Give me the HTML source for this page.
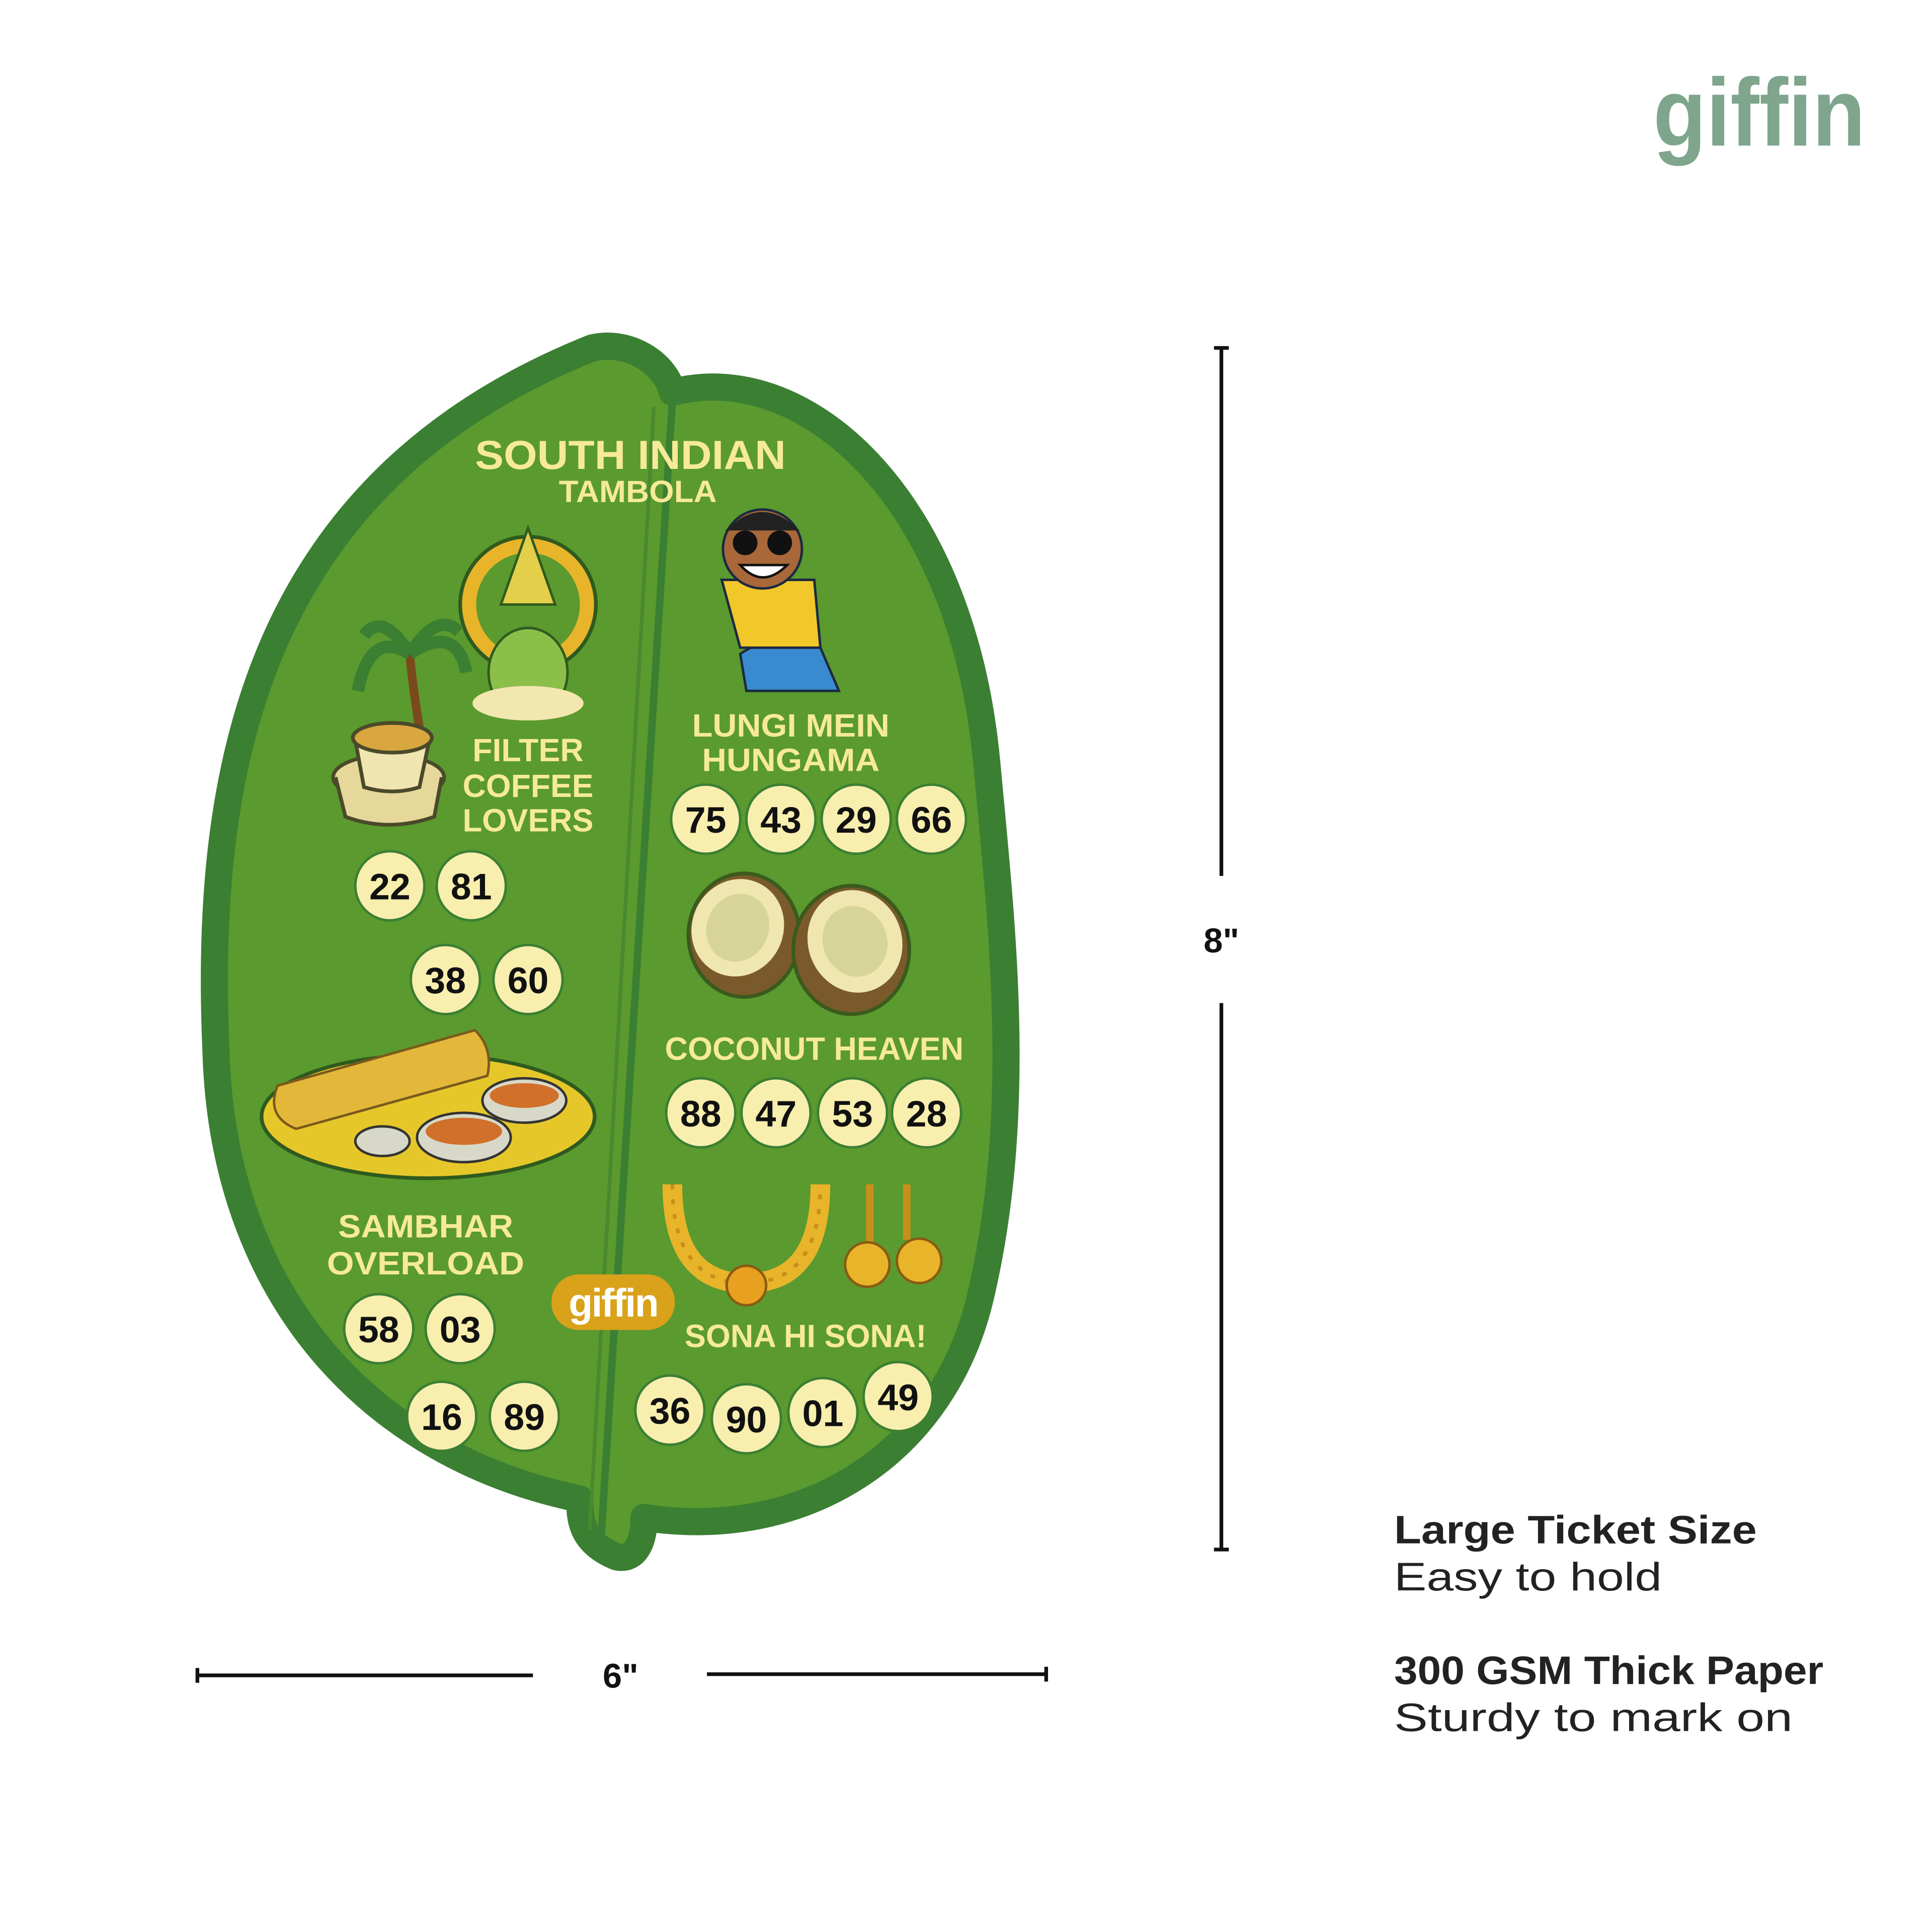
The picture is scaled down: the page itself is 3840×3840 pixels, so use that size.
<!DOCTYPE html>
<html><head><meta charset="utf-8"><style>
html,body{margin:0;padding:0;background:#fff;}
svg{display:block;}
</style></head><body>
<svg width="3840" height="3840" viewBox="0 0 1566 1566" xmlns="http://www.w3.org/2000/svg" font-family="Liberation Sans, sans-serif">
<rect width="1566" height="1566" fill="#fff"/>
<text x="1340" y="118" font-size="78" fill="#7fa58c" font-weight="bold" textLength="172" lengthAdjust="spacingAndGlyphs">giffin</text>

<path transform="translate(8,8)" d="M500 1262 C470 1250 470 1230 470 1215 C300 1180 180 1050 175 850 C165 620 210 390 480 282 C510 275 540 295 545 318 C650 290 780 400 800 620 C812 750 830 900 795 1050 C765 1180 650 1250 522 1230 C522 1250 515 1265 500 1262 Z" fill="#d8d8d8" opacity="0.6"/>
<path d="M500 1262 C470 1250 470 1230 470 1215 C300 1180 180 1050 175 850 C165 620 210 390 480 282 C510 275 540 295 545 318 C650 290 780 400 800 620 C812 750 830 900 795 1050 C765 1180 650 1250 522 1230 C522 1250 515 1265 500 1262 Z" fill="#5a9a2e" stroke="#3b7f33" stroke-width="22" stroke-linejoin="round"/>
<path d="M545 325 L487 1250" stroke="#3b7f33" stroke-width="6" fill="none"/>
<path d="M530 330 L478 1240" stroke="#4a8a2e" stroke-width="3" fill="none"/>

<g fill="#f6ea98" font-weight="bold" text-anchor="middle">
<text x="511" y="380" font-size="33" textLength="252" lengthAdjust="spacingAndGlyphs">SOUTH INDIAN</text>
<text x="517" y="407" font-size="25" textLength="128" lengthAdjust="spacingAndGlyphs">TAMBOLA</text>
<text x="428" y="617" font-size="26" textLength="90" lengthAdjust="spacingAndGlyphs">FILTER</text>
<text x="428" y="646" font-size="26" textLength="106" lengthAdjust="spacingAndGlyphs">COFFEE</text>
<text x="428" y="674" font-size="26" textLength="106" lengthAdjust="spacingAndGlyphs">LOVERS</text>
<text x="641" y="597" font-size="26" textLength="160" lengthAdjust="spacingAndGlyphs">LUNGI MEIN</text>
<text x="641" y="625" font-size="26" textLength="144" lengthAdjust="spacingAndGlyphs">HUNGAMA</text>
<text x="660" y="859" font-size="26" textLength="242" lengthAdjust="spacingAndGlyphs">COCONUT HEAVEN</text>
<text x="345" y="1003" font-size="26" textLength="142" lengthAdjust="spacingAndGlyphs">SAMBHAR</text>
<text x="345" y="1033" font-size="26" textLength="160" lengthAdjust="spacingAndGlyphs">OVERLOAD</text>
<text x="653" y="1092" font-size="26" textLength="196" lengthAdjust="spacingAndGlyphs">SONA HI SONA!</text>
</g>

<circle cx="428" cy="490" r="55" fill="#e8b42a" stroke="#2f5a1e" stroke-width="3"/>
<circle cx="428" cy="490" r="42" fill="#5a9a2e"/>
<path d="M428 428 L450 490 L406 490 Z" fill="#e3cf4a" stroke="#2f5a1e" stroke-width="2"/>
<ellipse cx="428" cy="545" rx="32" ry="36" fill="#8bbf4a" stroke="#2f5a1e" stroke-width="2"/>
<ellipse cx="428" cy="570" rx="45" ry="14" fill="#f3e7b0"/>
<path d="M340 590 Q335 560 332 530" stroke="#7a4a1c" stroke-width="7" fill="none"/>
<path d="M332 530 Q300 510 290 560 M332 530 Q370 505 378 545 M332 530 Q310 495 295 515 M332 530 Q355 495 372 512" stroke="#3b7f33" stroke-width="10" fill="none"/>
<ellipse cx="315" cy="630" rx="45" ry="18" fill="#e6d79a" stroke="#4a4a2a" stroke-width="3"/>
<path d="M272 630 L280 662 Q315 675 352 662 L358 630" fill="#e6d79a" stroke="#4a4a2a" stroke-width="3"/>
<path d="M288 600 L295 638 Q318 645 340 638 L348 600 Z" fill="#f0e4b0" stroke="#4a4a2a" stroke-width="3"/>
<ellipse cx="318" cy="598" rx="32" ry="12" fill="#d8a740" stroke="#4a4a2a" stroke-width="3"/>
<path d="M600 530 Q630 510 665 525 L680 560 L605 560 Z" fill="#3a8ad0" stroke="#1c2a40" stroke-width="2"/>
<path d="M585 470 L660 470 L665 525 L600 525 Z" fill="#f2c72a" stroke="#1c2a40" stroke-width="2"/>
<circle cx="618" cy="445" r="32" fill="#a8683a" stroke="#1c2a40" stroke-width="2"/>
<path d="M588 430 Q618 400 648 430" fill="#222"/>
<circle cx="604" cy="440" r="10" fill="#111"/><circle cx="632" cy="440" r="10" fill="#111"/>
<path d="M600 458 Q618 478 638 458 Z" fill="#fff" stroke="#111" stroke-width="2"/>
<ellipse cx="603" cy="758" rx="45" ry="50" fill="#7a5a2a" stroke="#3b5a1e" stroke-width="3"/>
<ellipse cx="598" cy="752" rx="37" ry="40" fill="#efe6b0" transform="rotate(25 598 752)"/>
<ellipse cx="598" cy="752" rx="25" ry="28" fill="#d7d49a" transform="rotate(25 598 752)"/>
<ellipse cx="690" cy="770" rx="47" ry="52" fill="#7a5a2a" stroke="#3b5a1e" stroke-width="3"/>
<ellipse cx="693" cy="763" rx="38" ry="42" fill="#efe6b0" transform="rotate(-20 693 763)"/>
<ellipse cx="693" cy="763" rx="26" ry="29" fill="#d7d49a" transform="rotate(-20 693 763)"/>
<ellipse cx="347" cy="905" rx="135" ry="50" fill="#e6c72a" stroke="#2f5a1e" stroke-width="3"/>
<path d="M225 880 L385 835 Q400 850 395 872 L240 915 Q215 905 225 880 Z" fill="#e3b83a" stroke="#7a5a1c" stroke-width="2"/>
<ellipse cx="425" cy="892" rx="34" ry="18" fill="#d8d8c8" stroke="#333" stroke-width="2"/>
<ellipse cx="425" cy="888" rx="28" ry="10" fill="#d0702a"/>
<ellipse cx="376" cy="922" rx="38" ry="20" fill="#d8d8c8" stroke="#333" stroke-width="2"/>
<ellipse cx="376" cy="917" rx="31" ry="11" fill="#d0702a"/>
<ellipse cx="310" cy="925" rx="22" ry="12" fill="#d8d8c8" stroke="#333" stroke-width="2"/>
<path d="M545 960 Q545 1040 605 1040 Q665 1040 665 960" fill="none" stroke="#e8b42a" stroke-width="16"/>
<path d="M545 960 Q545 1040 605 1040 Q665 1040 665 960" fill="none" stroke="#c8901a" stroke-width="3" stroke-dasharray="4 8"/>
<circle cx="605" cy="1042" r="16" fill="#e8a020" stroke="#8a5a10" stroke-width="2"/>
<path d="M705 960 L705 1010" stroke="#c8901a" stroke-width="6"/><ellipse cx="703" cy="1025" rx="18" ry="18" fill="#e8b42a" stroke="#8a5a10" stroke-width="2"/>
<path d="M735 960 L735 1005" stroke="#c8901a" stroke-width="6"/><ellipse cx="745" cy="1022" rx="18" ry="18" fill="#e8b42a" stroke="#8a5a10" stroke-width="2"/>

<rect x="447" y="1033" width="100" height="45" rx="22" fill="#d9a21a"/>
<text x="497" y="1067" text-anchor="middle" font-size="32" fill="#fff" font-weight="bold" letter-spacing="-1">giffin</text>

<g font-weight="bold" font-size="30" text-anchor="middle" fill="#111">
<g fill="#f8eeae" stroke="#3b7f33" stroke-width="2">
<circle cx="572" cy="664" r="28"/><circle cx="633" cy="664" r="28"/><circle cx="694" cy="664" r="28"/><circle cx="755" cy="664" r="28"/>
<circle cx="316" cy="718" r="28"/><circle cx="382" cy="718" r="28"/>
<circle cx="361" cy="794" r="28"/><circle cx="428" cy="794" r="28"/>
<circle cx="568" cy="902" r="28"/><circle cx="629" cy="902" r="28"/><circle cx="691" cy="902" r="28"/><circle cx="751" cy="902" r="28"/>
<circle cx="307" cy="1077" r="28"/><circle cx="373" cy="1077" r="28"/>
<circle cx="358" cy="1148" r="28"/><circle cx="425" cy="1148" r="28"/>
<circle cx="543" cy="1143" r="28"/><circle cx="605" cy="1150" r="28"/><circle cx="667" cy="1145" r="28"/><circle cx="728" cy="1132" r="28"/>
</g>
<text x="572" y="675">75</text><text x="633" y="675">43</text><text x="694" y="675">29</text><text x="755" y="675">66</text>
<text x="316" y="729">22</text><text x="382" y="729">81</text>
<text x="361" y="805">38</text><text x="428" y="805">60</text>
<text x="568" y="913">88</text><text x="629" y="913">47</text><text x="691" y="913">53</text><text x="751" y="913">28</text>
<text x="307" y="1088">58</text><text x="373" y="1088">03</text>
<text x="358" y="1159">16</text><text x="425" y="1159">89</text>
<text x="543" y="1154">36</text><text x="605" y="1161">90</text><text x="667" y="1156">01</text><text x="728" y="1143">49</text>
</g>

<g stroke="#111" stroke-width="3">
<line x1="990" y1="282" x2="990" y2="710"/><line x1="984" y1="282" x2="996" y2="282"/>
<line x1="990" y1="813" x2="990" y2="1256"/><line x1="984" y1="1256" x2="996" y2="1256"/>
<line x1="160" y1="1358" x2="432" y2="1358"/><line x1="160" y1="1352" x2="160" y2="1364"/>
<line x1="573" y1="1357" x2="848" y2="1357"/><line x1="848" y1="1351" x2="848" y2="1363"/>
</g>
<text x="990" y="772" text-anchor="middle" font-size="28" font-weight="bold" fill="#111">8"</text>
<text x="503" y="1368" text-anchor="middle" font-size="28" font-weight="bold" fill="#111">6"</text>

<g fill="#222" font-size="32">
<text x="1130" y="1251" font-weight="bold" textLength="294" lengthAdjust="spacingAndGlyphs">Large Ticket Size</text>
<text x="1130" y="1289" textLength="217" lengthAdjust="spacingAndGlyphs">Easy to hold</text>
<text x="1130" y="1365" font-weight="bold" textLength="348" lengthAdjust="spacingAndGlyphs">300 GSM Thick Paper</text>
<text x="1130" y="1403" textLength="323" lengthAdjust="spacingAndGlyphs">Sturdy to mark on</text>
</g>
</svg>
</body></html>
